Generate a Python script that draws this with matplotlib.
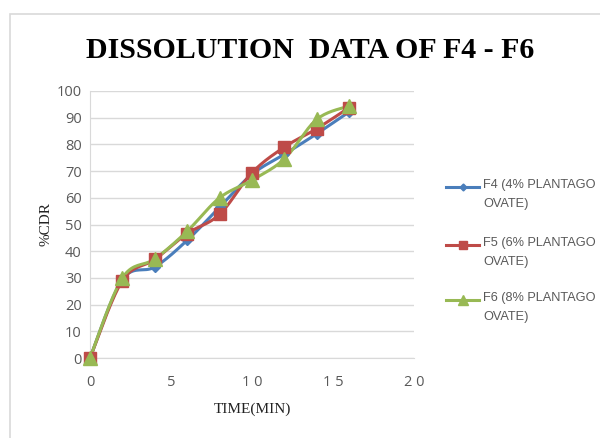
import numpy as np
import matplotlib
matplotlib.use("Agg")
import matplotlib.pyplot as plt
from matplotlib.lines import Line2D
from matplotlib.patches import Rectangle

# Sampling times (minutes) and cumulative drug release (%)
time_min = [0, 2, 4, 6, 8, 10, 12, 14, 16]
f4 = [0, 29.4, 34.1, 44.1, 56.5, 68.8, 76.3, 84.0, 92.2]
f5 = [0, 29.0, 36.9, 46.6, 53.8, 69.4, 79.0, 85.9, 93.8]
f6 = [0, 30.0, 37.1, 47.5, 60.0, 66.6, 74.6, 89.4, 94.4]

series_labels = ["F4 (4% PLANTAGO\nOVATE)", "F5 (6% PLANTAGO\nOVATE)", "F6 (8% PLANTAGO\nOVATE)"]
x_ticks = [0, 5, 10, 15, 20]
x_tick_labels = ["0", "5", "1 0", "1 5", "2 0"]
y_ticks = list(range(0, 101, 10))


def smooth(x, y, n=20, tension=0.5):
    """Cardinal-spline smoothing through every data point."""
    x = np.asarray(x, float)
    y = np.asarray(y, float)
    px = np.concatenate([[x[0]], x, [x[-1]]])
    py = np.concatenate([[y[0]], y, [y[-1]]])
    xs, ys = [], []
    t = np.linspace(0, 1, n)
    for i in range(1, len(px) - 2):
        p0, p1, p2, p3 = (np.array([px[j], py[j]]) for j in (i - 1, i, i + 1, i + 2))
        m1 = tension * (p2 - p0)
        m2 = tension * (p3 - p1)
        h00 = 2 * t**3 - 3 * t**2 + 1
        h10 = t**3 - 2 * t**2 + t
        h01 = -2 * t**3 + 3 * t**2
        h11 = t**3 - t**2
        pts = (np.outer(h00, p1) + np.outer(h10, m1) + np.outer(h01, p2) + np.outer(h11, m2))
        xs.extend(pts[:, 0])
        ys.extend(pts[:, 1])
    return np.array(xs), np.array(ys)


W, H = 600, 438
fig = plt.figure(figsize=(W / 100, H / 100), dpi=100)
fig.patch.set_facecolor("white")

# chart-area frame
fig.patches.append(Rectangle((10 / W, -0.05), 1.0, 1 - 14 / H + 0.05,
                             transform=fig.transFigure, fill=False,
                             edgecolor="#d9d9d9", linewidth=1.2))

ax = fig.add_axes([90 / W, 1 - 358 / H, 324 / W, 267 / H])
ax.set_xlim(0, 20)
ax.set_ylim(0, 100)

styles = [
    dict(color="#4A7EBB", marker="D", ms=5),
    dict(color="#BE4B48", marker="s", ms=8.5),
    dict(color="#98B954", marker="^", ms=9.5),
]
for vals, st in zip([f4, f5, f6], styles):
    sx, sy = smooth(time_min, vals)
    ax.plot(sx, sy, color=st["color"], lw=2.2, zorder=3, solid_capstyle="round")
    ax.plot(time_min, vals, linestyle="none", marker=st["marker"], ms=st["ms"],
            color=st["color"], zorder=4, clip_on=False)

ax.set_yticks(y_ticks)
ax.set_xticks(x_ticks)
ax.set_xticklabels(x_tick_labels)
ax.grid(axis="y", color="#d9d9d9", lw=1)
ax.set_axisbelow(True)
for s in ["top", "right"]:
    ax.spines[s].set_visible(False)
for s in ["left", "bottom"]:
    ax.spines[s].set_color("#d9d9d9")
ax.tick_params(axis="y", length=0, labelsize=10.5, labelcolor="#595959", pad=6)
ax.tick_params(axis="x", length=0, labelsize=10.5, labelcolor="#595959", pad=12)
for lbl in ax.get_xticklabels() + ax.get_yticklabels():
    lbl.set_fontfamily("Open Sans")

ax.set_xlabel("TIME(MIN)", family="Liberation Serif", fontsize=11, color="#222222", labelpad=9)
ax.set_ylabel("%CDR", family="Liberation Serif", fontsize=11, color="#222222", labelpad=3)

fig.text(0.517, 1 - 50 / H, "DISSOLUTION  DATA OF F4 - F6", ha="center", va="center",
         family="Liberation Serif", fontweight="bold", fontsize=21.5)

# legend drawn entry by entry: line + marker, two-line label
legend_top = [187, 245, 300]
for y0, st, lab in zip(legend_top, styles, series_labels):
    yf = 1 - y0 / H
    fig.add_artist(Line2D([446 / W, 479 / W], [yf, yf], transform=fig.transFigure,
                          color=st["color"], lw=2.2))
    fig.add_artist(Line2D([463 / W], [yf], transform=fig.transFigure, color=st["color"],
                          marker=st["marker"], ms=st["ms"] * 0.7, linestyle="none"))
    fig.text(483 / W, 1 - (y0 - 8) / H, lab, ha="left", va="top", family="Liberation Sans",
             fontsize=9.2, color="#595959", linespacing=1.8)

fig.savefig("out.png", dpi=100)
